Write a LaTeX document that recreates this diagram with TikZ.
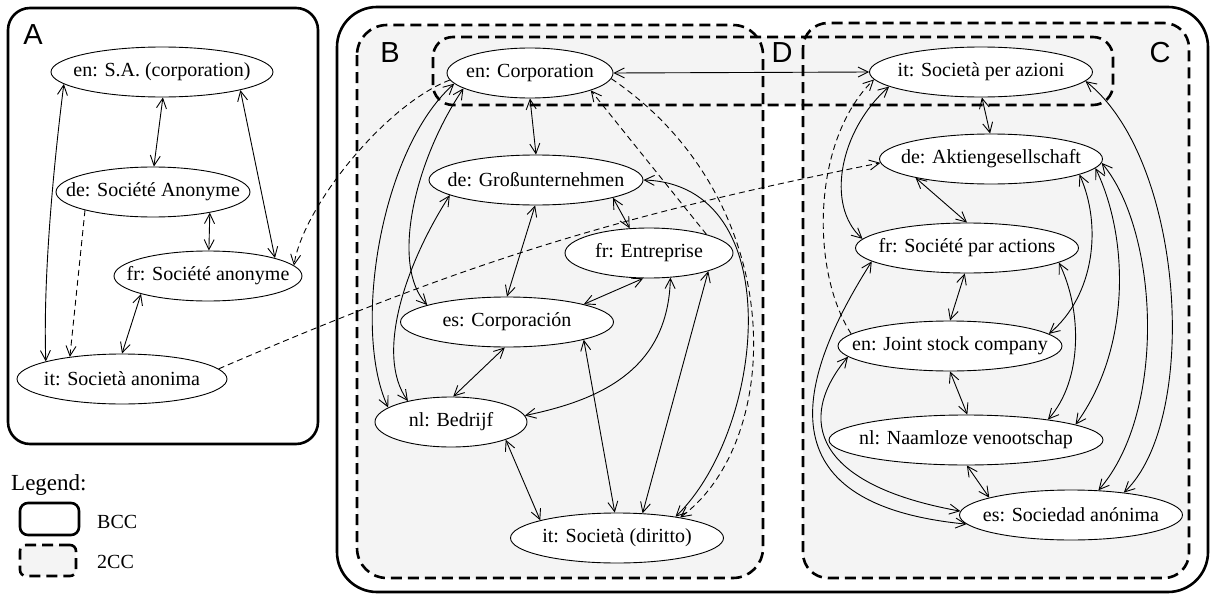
\documentclass[tikz,border=0pt]{standalone}
\usepackage{fontspec}
\setmainfont{Liberation Serif}
\newfontfamily\labfont{Liberation Sans}
\usetikzlibrary{arrows.meta,shapes.geometric}
\definecolor{ccfill}{HTML}{F4F4F4}
\newcommand\mbz[1]{\makebox[0pt]{#1}}
\pgfdeclarelayer{boxes}
\pgfdeclarelayer{edges}
\pgfsetlayers{boxes,edges,main}
\begin{document}
\begin{tikzpicture}[x=1pt,y=1pt,
  nd/.style={ellipse,draw,fill=white,line width=0.9pt,minimum height=50pt,inner sep=0pt,font=\fontsize{20}{24}\selectfont},
  bi/.style={line width=0.9pt,{Straight Barb[length=10pt,width=10pt]}-{Straight Barb[length=10pt,width=10pt]}},
  uni/.style={line width=0.9pt,-{Straight Barb[length=10pt,width=10pt]}},
  dsh/.style={dash pattern=on 6pt off 4pt},
  bccbox/.style={draw,line width=2.6pt},
  twoccbox/.style={draw,line width=2.6pt,fill=ccfill,dash pattern=on 11pt off 6pt},
  lab/.style={font=\labfont\fontsize{29}{30}\selectfont,inner sep=0pt},
  txt/.style={font=\fontsize{20}{24}\selectfont,inner sep=0pt,anchor=west}]
\useasboundingbox (0,0) rectangle (1211,-597);

\begin{pgfonlayer}{boxes}
  \path[bccbox,rounded corners=22pt] (8,-8) rectangle (318,-444);
  \path[bccbox,rounded corners=40pt] (337,-7) rectangle (1208,-592);
  \fill[ccfill,rounded corners=30pt] (357,-25) rectangle (763,-578);
  \fill[ccfill,rounded corners=25pt] (803,-23) rectangle (1189,-578);
  \fill[ccfill,rounded corners=20pt] (433,-37) rectangle (1113,-105);
  \draw[line width=2.6pt,dash pattern=on 11pt off 6pt,rounded corners=30pt] (357,-25) rectangle (763,-578);
  \draw[line width=2.6pt,dash pattern=on 11pt off 6pt,rounded corners=25pt] (803,-23) rectangle (1189,-578);
  \draw[line width=2.6pt,dash pattern=on 11pt off 6pt,rounded corners=20pt] (433,-37) rectangle (1113,-105);
\end{pgfonlayer}

\node[lab] (labA) at (33,-35) {A};
\node[lab] (labB) at (390,-53) {B};
\node[lab] (labD) at (782,-53) {D};
\node[lab] (labC) at (1160,-53) {C};

% group A
\node[nd,minimum width=222pt] (esa) at (162,-72) {\mbz{en: S.A. (corporation)}};
\node[nd,minimum width=194pt] (desa) at (153,-192) {\mbz{de: Société Anonyme}};
\node[nd,minimum width=188pt] (frsa) at (208,-276) {\mbz{fr: Société anonyme}};
\node[nd,minimum width=210pt] (itsa) at (122,-379) {\mbz{it: Società anonima}};
% group B
\node[nd,minimum width=166pt] (encorp) at (530,-73) {\mbz{en: Corporation}};
\node[nd,minimum width=214pt] (degross) at (536,-180) {\mbz{de: Großunternehmen}};
\node[nd,minimum width=168pt] (frent) at (649,-253) {\mbz{fr: Entreprise}};
\node[nd,minimum width=213pt] (escorp) at (507,-322) {\mbz{es: Corporación}};
\node[nd,minimum width=152pt] (nlbed) at (451,-422) {\mbz{nl: Bedrijf}};
\node[nd,minimum width=213pt] (itsoc) at (617,-538) {\mbz{it: Società (diritto)}};
% group C
\node[nd,minimum width=223pt] (itspa) at (981,-72) {\mbz{it: Società per azioni}};
\node[nd,minimum width=223pt] (deag) at (991,-159) {\mbz{de: Aktiengesellschaft}};
\node[nd,minimum width=223pt] (frspa) at (967,-248) {\mbz{fr: Société par actions}};
\node[nd,minimum width=224pt] (enjsc) at (950,-346) {\mbz{en: Joint stock company}};
\node[nd,minimum width=274pt] (nlnv) at (966,-440) {\mbz{nl: Naamloze venootschap}};
\node[nd,minimum width=223pt] (essa) at (1071,-515) {\mbz{es: Sociedad anónima}};

% legend
\node[anchor=west,inner sep=0pt,font=\fontsize{23}{26}\selectfont] (leg) at (11,-485) {Legend:};
\node[bccbox,rounded corners=8pt,minimum width=59pt,minimum height=32pt,inner sep=0pt] (legb) at (49.5,-519) {};
\node[txt] (legbt) at (97,-522) {BCC};
\node[twoccbox,rounded corners=6pt,minimum width=56pt,minimum height=31pt,inner sep=0pt] (legd) at (48,-560.5) {};
\node[txt] (legdt) at (97,-562) {2CC};

\begin{pgfonlayer}{edges}
  % A
  \draw[bi] (esa.-88) -- (desa.88);
  \draw[bi] (esa.-13) -- (frsa.15);
  \draw[bi] (esa.187) .. controls (53,-170) and (43,-280) .. (itsa.167);
  \draw[bi] (desa.-20) -- (frsa.88);
  \draw[uni,dsh] (desa.195) -- (itsa.157);
  \draw[bi] (frsa.195) -- (itsa.90);
  % cross
  \draw[uni,dsh] (encorp.185) .. controls (385,-105) and (303,-207) .. (frsa.7);
  \draw[uni,dsh] (itsa.6) to[bend left=6] (deag.182);
  \draw[uni,dsh] (frent.18) -- (encorp.-16);
  \draw[uni,dsh] (encorp.-4) .. controls (790,-200) and (785,-440) .. (itsoc.18);
  % B
  \draw[bi] (degross.0) .. controls (790,-185) and (765,-430) .. (itsoc.20);
  \draw[bi] (encorp.east) -- (itspa.west);
  \draw[bi] (encorp.-90) -- (degross.90);
  \draw[bi] (degross.-13) -- (frent.128);
  \draw[bi] (degross.-92) -- (escorp.90);
  \draw[bi] (degross.190) .. controls (405,-265) and (375,-355) .. (nlbed.154);
  \draw[bi] (encorp.188) .. controls (380,-150) and (352,-330) .. (nlbed.167);
  \draw[bi] (encorp.193) .. controls (415,-160) and (390,-265) .. (escorp.168);
  \draw[bi] (frent.-103) -- (escorp.13);
  \draw[bi] (frent.-49) .. controls (668,-370) and (600,-400) .. (nlbed.5);
  \draw[bi] (frent.-17) -- (itsoc.44);
  \draw[bi] (escorp.-95) -- (nlbed.85);
  \draw[bi] (escorp.-13) -- (itsoc.95);
  \draw[bi] (nlbed.-18) -- (itsoc.167);
  % C
  \draw[bi] (itspa.-88) -- (deag.92);
  \draw[bi] (itspa.189) .. controls (840,-130) and (825,-205) .. (frspa.175);
  \draw[uni,dsh] (enjsc.173) .. controls (810,-270) and (812,-140) .. (itspa.184);
  \draw[bi] (deag.194) -- (frspa.90);
  \draw[bi] (itspa.-5) .. controls (1185,-160) and (1200,-420) .. (essa.23);
  \draw[bi] (deag.-10) .. controls (1102,-225) and (1095,-295) .. (enjsc.7);
  \draw[bi] (frspa.-9) .. controls (1082,-310) and (1083,-380) .. (nlnv.14);
  \draw[bi] (deag.-5) .. controls (1130,-240) and (1130,-350) .. (nlnv.8);
  \draw[bi] (deag.-2) .. controls (1158,-230) and (1168,-410) .. (essa.42);
  \draw[bi] (frspa.-95) -- (enjsc.90);
  \draw[bi] (frspa.188) .. controls (790,-390) and (770,-505) .. (essa.185);
  \draw[bi] (enjsc.186) .. controls (795,-420) and (815,-485) .. (essa.178);
  \draw[bi] (enjsc.-90) -- (nlnv.87);
  \draw[bi] (nlnv.-88) -- (essa.168);
\end{pgfonlayer}
\end{tikzpicture}
\end{document}
